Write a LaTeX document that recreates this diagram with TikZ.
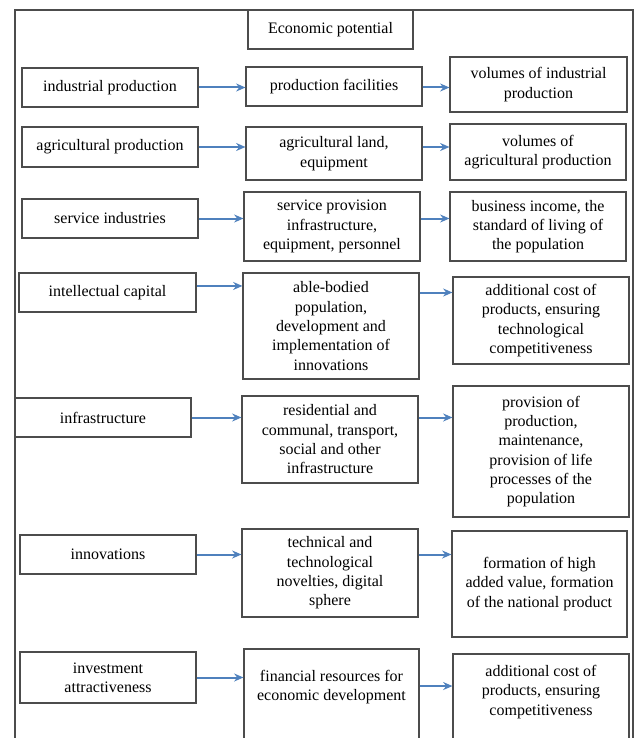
\documentclass[tikz,border=0pt]{standalone}
\usepackage{fontspec}
\setmainfont{Liberation Serif}
\usetikzlibrary{arrows.meta}
\definecolor{flowblue}{RGB}{79,129,189}

\begin{document}
\begin{tikzpicture}[
    x=0.75pt, y=-0.75pt,
    box/.style={
        draw=black!70, rectangle, line width=0.8pt,
        minimum width=132pt, minimum height=29.25pt,
        font=\fontsize{12}{14.5}\selectfont, align=center
    },
    frame/.style={draw=black!70, line width=1pt},
    flow/.style={->, >={Stealth[length=7pt,width=6pt]}, line width=1.5pt, flowblue}
]
    \useasboundingbox (0,0) rectangle (639,738);
    \clip (0,0) rectangle (639,738);

    % Outer frame (runs off the bottom)
    \draw[frame] (15,760) -- (15,10) -- (633,10) -- (633,760);
    \node[box, minimum width=123.75pt] (ep) at (330.5,29.5) {Economic potential};

    % Row 1: industrial production
    \node[box] (ind) at (110,87.5) {industrial production};
    \node[box] (indf) at (334,86.5) {production facilities};
    \node[box, minimum width=132.75pt, minimum height=41.25pt] (indv) at (538.5,84.5) {volumes of industrial\\production};

    % Row 2: agricultural production
    \node[box, minimum height=30pt] (agr) at (110,147) {agricultural production};
    \node[box, minimum height=39.75pt] (agrl) at (334,153.5) {agricultural land,\\equipment};
    \node[box, minimum height=42pt] (agrv) at (538,152) {volumes of\\agricultural production};

    % Row 3: service industries
    \node[box] (srv) at (110,218.5) {service industries};
    \node[box, minimum height=51.75pt] (srvi) at (332,226.5) {service provision\\infrastructure,\\equipment, personnel};
    \node[box, minimum height=51.75pt] (srvb) at (538,226.5) {business income, the\\standard of living of\\the population};

    % Row 4: intellectual capital
    \node[box, minimum width=132.75pt] (int) at (107.5,292.5) {intellectual capital};
    \node[box, minimum height=79.5pt] (intp) at (331,326) {able-bodied\\population,\\development and\\implementation of\\innovations};
    \node[box, minimum height=65.25pt] (intc) at (541,320.5) {additional cost of\\products, ensuring\\technological\\competitiveness};

    % Row 5: infrastructure
    \node[box] (inf) at (103,417.5) {infrastructure};
    \node[box, minimum height=65.25pt] (infr) at (330,439.5) {residential and\\communal, transport,\\social and other\\infrastructure};
    \node[box, minimum height=98.25pt] (infp) at (541,451.5) {provision of\\production,\\maintenance,\\provision of life\\processes of the\\population};

    % Row 6: innovations
    \node[box] (inn) at (108,554.5) {innovations};
    \node[box, minimum height=66pt] (innt) at (330,573) {technical and\\technological\\novelties, digital\\sphere};
    \node[box, minimum width=131.25pt, minimum height=79.5pt] (innf) at (539.5,584) {formation of high\\added value, formation\\of the national product};

    % Row 7: investment attractiveness
    \node[box, minimum height=38.25pt] (inv) at (108,677.5) {investment\\attractiveness};
    \node[box, minimum width=131.25pt, minimum height=75.75pt, text depth=21pt] (invf) at (331.5,699.5) {financial resources for\\economic development};
    \node[box, minimum height=72pt, text depth=17.5pt] (invc) at (541,702) {additional cost of\\products, ensuring\\competitiveness};

    % Flows: source -> means -> result
    \draw[flow] (ind.east) -- (indf.west |- ind);
    \draw[flow] (indf.east |- ind) -- (indv.west |- ind);
    \draw[flow] (agr.east) -- (agrl.west |- agr);
    \draw[flow] (agrl.east |- agr) -- (agrv.west |- agr);
    \draw[flow] (srv.east) -- (srvi.west |- srv);
    \draw[flow] (srvi.east |- srv) -- (srvb.west |- srv);
    \draw[flow] ([yshift=4.9pt]int.east) -- ([yshift=4.9pt]intp.west |- int);
    \draw[flow] (intp.east |- int) -- (intc.west |- int);
    \draw[flow] (inf.east) -- (infr.west |- inf);
    \draw[flow] (infr.east |- inf) -- (infp.west |- inf);
    \draw[flow] (inn.east) -- (innt.west |- inn);
    \draw[flow] (innt.east |- inn) -- (innf.west |- inn);
    \draw[flow] (inv.east) -- (invf.west |- inv);
    \draw[flow] ([yshift=-6.4pt]invf.east |- inv) -- ([yshift=-6.4pt]invc.west |- inv);

\end{tikzpicture}
\end{document}
